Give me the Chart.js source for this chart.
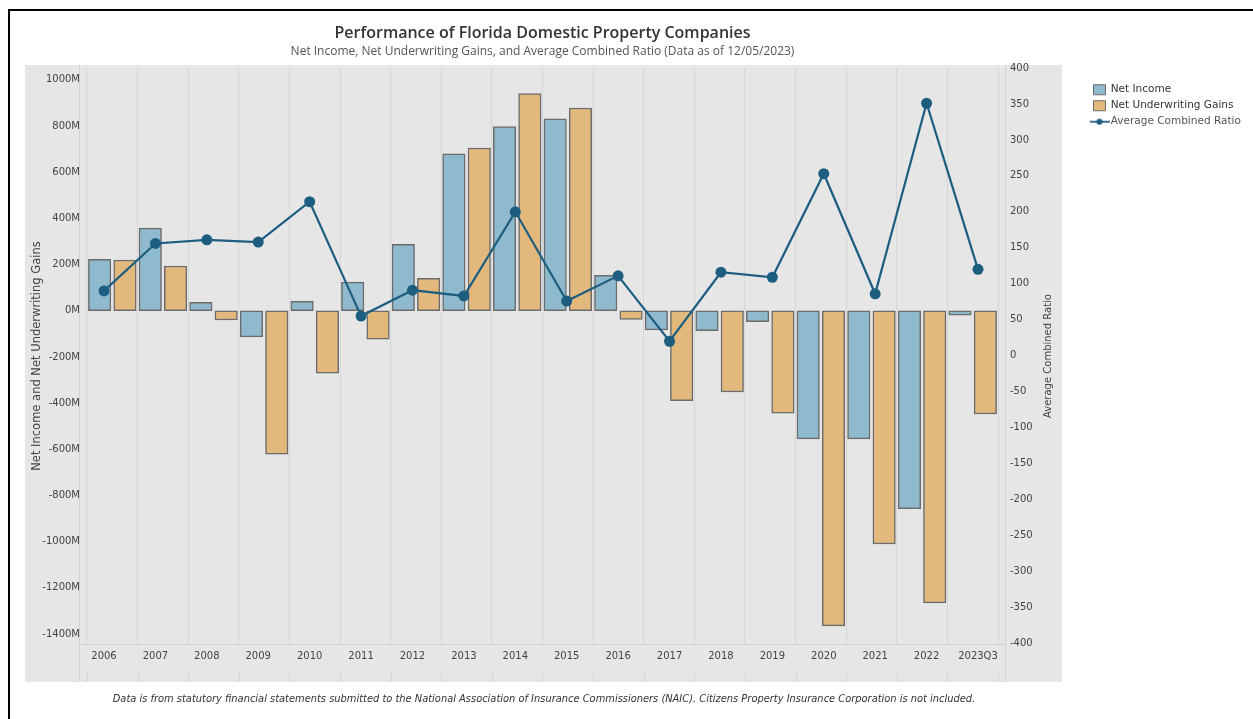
<!DOCTYPE html>
<html>
<head>
<meta charset="utf-8">
<title>Performance of Florida Domestic Property Companies</title>
<script src="https://cdn.jsdelivr.net/npm/chart.js@4.4.0/dist/chart.umd.min.js"></script>
<style>
  html, body { margin: 0; padding: 0; background: #fff; }
  #wrap { position: relative; width: 1253px; height: 719px; }
</style>
</head>
<body>
<div id="wrap"><canvas id="perfChart"></canvas></div>
<script>
// values (millions of dollars / ratio)
const years = ['2006', '2007', '2008', '2009', '2010', '2011', '2012', '2013', '2014',
               '2015', '2016', '2017', '2018', '2019', '2020', '2021', '2022', '2023Q3'];
const netIncome = [223, 358, 37, -113, 41, 124, 288, 680, 798, 831, 153, -83, -86, -47, -555, -555, -857, -19];
const netUnderwritingGains = [220, 194, -40, -621, -270, -123, 141, 705, 941, 878, -37, -389, -352, -444, -1365, -1010, -1265, -447];
const combinedRatio = [90, 156, 161, 158, 214, 55, 91, 83, 200, 76, 111, 20, 116, 109, 253, 86, 351, 120];

const leftTicks = [-1400, -1200, -1000, -800, -600, -400, -200, 0, 200, 400, 600, 800, 1000];
const rightTicks = [-400, -350, -300, -250, -200, -150, -100, -50, 0, 50, 100, 150, 200, 250, 300, 350, 400];

const BLUE = '#8fb9cc';
const ORANGE = '#e3b87d';
const BAR_EDGE = '#6c6c6c';
const LINE = '#1d5e80';
const PANEL = '#e6e6e6';
const FONT = '"DejaVu Sans", Verdana, sans-serif';

// little line + dot icon for the legend
const lineIcon = document.createElement('canvas');
lineIcon.width = 20;
lineIcon.height = 10;
(() => {
    const c = lineIcon.getContext('2d');
    c.strokeStyle = LINE;
    c.lineWidth = 1.8;
    c.beginPath(); c.moveTo(0, 5); c.lineTo(20, 5); c.stroke();
    c.fillStyle = LINE;
    c.beginPath(); c.arc(10, 5, 3, 0, Math.PI * 2); c.fill();
})();

const toXY = arr => arr.map((v, i) => ({ x: i, y: v }));

const panelPlugin = {
    id: 'panel',
    beforeUpdate(chart) {
        // fixed legend width so the plot lands where it should
        const lg = chart.legend;
        if (lg && !lg._fixed) {
            const fit = lg.fit;
            lg.fit = function () { fit.call(this); this.width = 165; };
            lg._fixed = true;
        }
    },
    beforeDraw(chart) {
        const ctx = chart.ctx;
        const a = chart.chartArea;
        ctx.save();
        ctx.fillStyle = '#ffffff';
        ctx.fillRect(0, 0, chart.width, chart.height);
        ctx.fillStyle = PANEL;
        ctx.fillRect(25, 65, 1037, 617);
        ctx.fillStyle = '#000';
        ctx.fillRect(8, 9, chart.width - 8, 2);
        ctx.fillRect(8, 9, 2, chart.height - 9);

        ctx.strokeStyle = '#d2d2d2';
        ctx.lineWidth = 1;
        const seg = (x1, y1, x2, y2) => { ctx.beginPath(); ctx.moveTo(x1, y1); ctx.lineTo(x2, y2); ctx.stroke(); };
        seg(a.left - 0.5, 65, a.left - 0.5, 682);
        seg(a.right + 0.5, 65, a.right + 0.5, 682);
        seg(a.left, a.bottom + 0.5, a.right, a.bottom + 0.5);
        ctx.strokeStyle = '#f0f0f0';
        seg(a.left, 66.5, a.right, 66.5);

        // short marks under the year labels
        ctx.strokeStyle = '#d6d6d6';
        const xs = chart.scales.x;
        xs.ticks.forEach(t => {
            const px = Math.round(xs.getPixelForValue(t.value)) + 0.5;
            seg(px, 673, px, 682);
        });
        ctx.restore();
    },
    afterDraw(chart) {
        const ctx = chart.ctx;
        const a = chart.chartArea;
        ctx.save();
        ctx.translate(1048, (a.top + a.bottom) / 2);
        ctx.rotate(-Math.PI / 2);
        ctx.font = '10px ' + FONT;
        ctx.fillStyle = '#444';
        ctx.textAlign = 'center';
        ctx.textBaseline = 'middle';
        ctx.fillText('Average Combined Ratio', 0, 0);
        ctx.restore();

        ctx.save();
        ctx.font = 'italic 9.9px ' + FONT;
        ctx.fillStyle = '#333';
        ctx.textAlign = 'center';
        ctx.textBaseline = 'middle';
        ctx.fillText('Data is from statutory financial statements submitted to the National Association of Insurance Commissioners (NAIC). Citizens Property Insurance Corporation is not included.', 544, 699);
        ctx.restore();
    }
};

const barAxis = (min, max) => ({
    type: 'linear',
    display: false,
    min: min,
    max: max,
    offset: false,
    grid: { display: false, offset: false }
});

new Chart(document.getElementById('perfChart'), {
    type: 'bar',
    data: {
        datasets: [
            {
                label: 'Net Income',
                data: toXY(netIncome),
                backgroundColor: BLUE,
                borderColor: BAR_EDGE,
                borderWidth: 1.5,
                borderSkipped: false,
                grouped: false,
                barThickness: 22.5,
                xAxisID: 'xa',
                yAxisID: 'y'
            },
            {
                label: 'Net Underwriting Gains',
                data: toXY(netUnderwritingGains),
                backgroundColor: ORANGE,
                borderColor: BAR_EDGE,
                borderWidth: 1.5,
                borderSkipped: false,
                grouped: false,
                barThickness: 22.5,
                xAxisID: 'xb',
                yAxisID: 'y'
            },
            {
                type: 'line',
                label: 'Average Combined Ratio',
                data: toXY(combinedRatio),
                borderColor: LINE,
                backgroundColor: LINE,
                borderWidth: 2.2,
                pointRadius: 5.5,
                pointBorderWidth: 0,
                pointBackgroundColor: LINE,
                tension: 0,
                xAxisID: 'xl',
                yAxisID: 'y1',
                order: -1
            }
        ]
    },
    options: {
        responsive: true,
        maintainAspectRatio: false,
        devicePixelRatio: 1,
        animation: false,
        layout: { padding: { top: 10, left: 25, right: 0, bottom: 51 } },
        plugins: {
            title: {
                display: true,
                fullSize: false,
                text: 'Performance of Florida Domestic Property Companies',
                color: '#333',
                font: { family: '"Open Sans", sans-serif', size: 16, weight: '600', lineHeight: 1.2 },
                padding: { top: 13.4, bottom: 0 }
            },
            subtitle: {
                display: true,
                fullSize: false,
                text: 'Net Income, Net Underwriting Gains, and Average Combined Ratio (Data as of 12/05/2023)',
                color: '#555',
                font: { family: '"Open Sans", sans-serif', size: 12, lineHeight: 1.2 },
                padding: { top: 2.2, bottom: 8.8 }
            },
            legend: {
                position: 'right',
                align: 'start',
                title: { display: true, text: '', font: { size: 10, lineHeight: 1.2 }, padding: { top: 57, bottom: 0 } },
                labels: {
                    usePointStyle: true,
                    boxWidth: 12,
                    boxHeight: 10,
                    pointStyleWidth: 12,
                    padding: 5.5,
                    color: '#333',
                    font: { family: FONT, size: 10.5 },
                    generateLabels: () => [
                        { text: 'Net Income', fillStyle: BLUE, strokeStyle: BAR_EDGE, lineWidth: 1, pointStyle: 'rect', fontColor: '#333', datasetIndex: 0, hidden: false },
                        { text: 'Net Underwriting Gains', fillStyle: ORANGE, strokeStyle: BAR_EDGE, lineWidth: 1, pointStyle: 'rect', fontColor: '#333', datasetIndex: 1, hidden: false },
                        { text: 'Average Combined Ratio', fillStyle: LINE, strokeStyle: LINE, lineWidth: 0, pointStyle: lineIcon, fontColor: '#555', datasetIndex: 2, hidden: false }
                    ]
                }
            },
            tooltip: { enabled: false }
        },
        scales: {
            // category boundaries (grid only)
            x: {
                type: 'linear',
                position: 'bottom',
                min: -0.6383,
                max: 17.6383,
                offset: false,
                afterBuildTicks: s => {
                    s.ticks = years.map((y, i) => ({ value: i - 0.5 })).concat({ value: years.length - 0.5 });
                },
                ticks: { display: false },
                grid: { color: '#d6d6d6', lineWidth: 1, drawTicks: false, offset: false },
                border: { display: false }
            },
            xa: barAxis(-0.3883, 17.8885),
            xb: barAxis(-0.8883, 17.3884),
            xl: {
                type: 'linear',
                position: 'bottom',
                min: -0.4668,
                max: 17.5252,
                offset: false,
                afterBuildTicks: s => {
                    s.ticks = years.map((y, i) => ({ value: i }));
                },
                ticks: {
                    autoSkip: false,
                    maxRotation: 0,
                    padding: 6,
                    color: '#444',
                    font: { family: FONT, size: 10 },
                    callback: v => years[v]
                },
                grid: { display: false, drawTicks: false, offset: false },
                border: { display: false }
            },
            y: {
                position: 'left',
                min: -1443.2,
                max: 1051.4,
                afterFit: s => { s.width = 55; },
                afterBuildTicks: s => {
                    s.ticks = leftTicks.map(v => ({ value: v }));
                },
                ticks: {
                    padding: 0,
                    color: '#444',
                    font: { family: FONT, size: 10 },
                    callback: v => Math.round(v) + 'M'
                },
                grid: { display: false, drawTicks: false },
                border: { display: false },
                title: {
                    display: true,
                    text: 'Net Income and Net Underwriting Gains',
                    color: '#444',
                    font: { family: FONT, size: 11.5, lineHeight: 1.2 },
                    padding: { top: 5, bottom: 0 }
                }
            },
            y1: {
                position: 'right',
                min: -401,
                max: 400,
                afterFit: s => { s.width = 83; },
                afterBuildTicks: s => {
                    s.ticks = rightTicks.map(v => ({ value: v }));
                },
                ticks: {
                    padding: 5,
                    color: '#444',
                    font: { family: FONT, size: 10 }
                },
                grid: { display: false, drawTicks: false },
                border: { display: false }
            }
        }
    },
    plugins: [panelPlugin]
});
</script>
</body>
</html>
